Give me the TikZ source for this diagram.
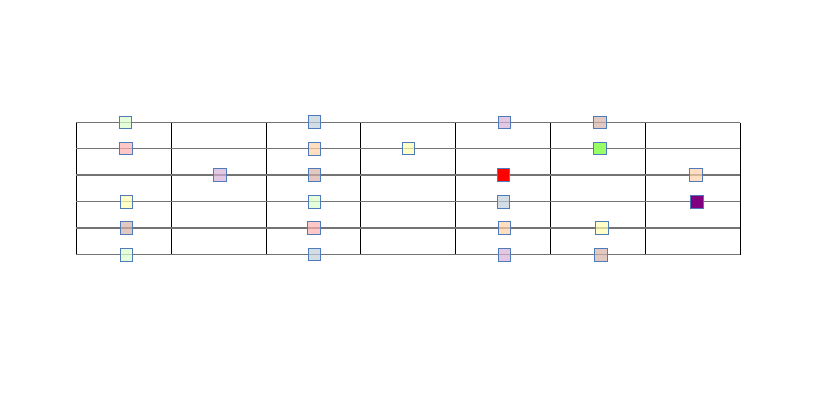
\documentclass[tikz,border=0pt]{standalone}
\begin{document}
\begin{tikzpicture}[x=1pt,y=-1pt,
  hline/.style={draw=black!55, line width=1.2pt},
  vline/.style={draw=black, line width=1pt},
  sq/.style={draw=sqborder, line width=0.9pt, minimum size=12.5pt, inner sep=0pt, fill opacity=0.7},
  sqs/.style={draw=sqborder, line width=0.9pt, minimum size=12.5pt, inner sep=0pt}]
\definecolor{sqborder}{HTML}{4F7BBA}
\definecolor{lgreen}{HTML}{DCFFCC}
\definecolor{lred}{HTML}{FFB0B0}
\definecolor{lpurple}{HTML}{D6B0D6}
\definecolor{lyellow}{HTML}{FFFFB0}
\definecolor{lbrown}{HTML}{D4B0A6}
\definecolor{lsteel}{HTML}{C0CEDC}
\definecolor{lorange}{HTML}{FFD0A8}
\definecolor{mgreen}{HTML}{99FF66}
\definecolor{mpurple}{HTML}{800080}
\useasboundingbox (0,0) rectangle (817,409);
% grid coordinates
\foreach \i/\y in {1/122.7,2/148.7,3/175,4/201.7,5/228,6/254.7}{
  \coordinate (L\i) at (76,\y);
  \coordinate (R\i) at (740.3,\y);
}
\foreach \j/\x in {0/76,1/171.1,2/266.3,3/360.8,4/455.5,5/550.3,6/645.3,7/740.3}{
  \coordinate (T\j) at (\x,122.7);
  \coordinate (B\j) at (\x,254.7);
}
\foreach \j in {0,...,7} \draw[vline] (T\j) -- (B\j);
\foreach \i in {1,...,6} \draw[hline] (L\i) -- (R\i);
% column 1
\node[sq, fill=lgreen] (a1) at (125.5,122.7) {};
\node[sq, fill=lred] (a2) at (125.7,148.7) {};
\node[sq, fill=lyellow] (a4) at (126.3,201.7) {};
\node[sq, fill=lbrown] (a5) at (126.3,228) {};
\node[sq, fill=lgreen] (a6) at (126.3,254.7) {};
% column 2
\node[sq, fill=lpurple] (b3) at (220,175) {};
% column 3
\node[sq, fill=lsteel] (c1) at (314.3,122) {};
\node[sq, fill=lorange] (c2) at (314.3,149) {};
\node[sq, fill=lbrown] (c3) at (314.6,175) {};
\node[sq, fill=lgreen] (c4) at (314.6,201.7) {};
\node[sq, fill=lred] (c5) at (314,228) {};
\node[sq, fill=lsteel] (c6) at (314.6,254.3) {};
% column 4
\node[sq, fill=lyellow] (d2) at (408.3,148.3) {};
% column 5
\node[sq, fill=lpurple] (e1) at (504.6,122.7) {};
\node[sqs, fill=red] (e3) at (503.3,175) {};
\node[sq, fill=lsteel] (e4) at (503.6,201.7) {};
\node[sq, fill=lorange] (e5) at (504.3,228) {};
\node[sq, fill=lpurple] (e6) at (504.6,254.7) {};
% column 6
\node[sq, fill=lbrown] (f1) at (599.7,122.7) {};
\node[sqs, fill=mgreen] (f2) at (600,148.7) {};
\node[sq, fill=lyellow] (f5) at (601.7,228) {};
\node[sq, fill=lbrown] (f6) at (601,254.7) {};
% column 7
\node[sq, fill=lorange] (g3) at (696,175) {};
\node[sqs, fill=mpurple] (g4) at (696.7,201.7) {};
\end{tikzpicture}
\end{document}
